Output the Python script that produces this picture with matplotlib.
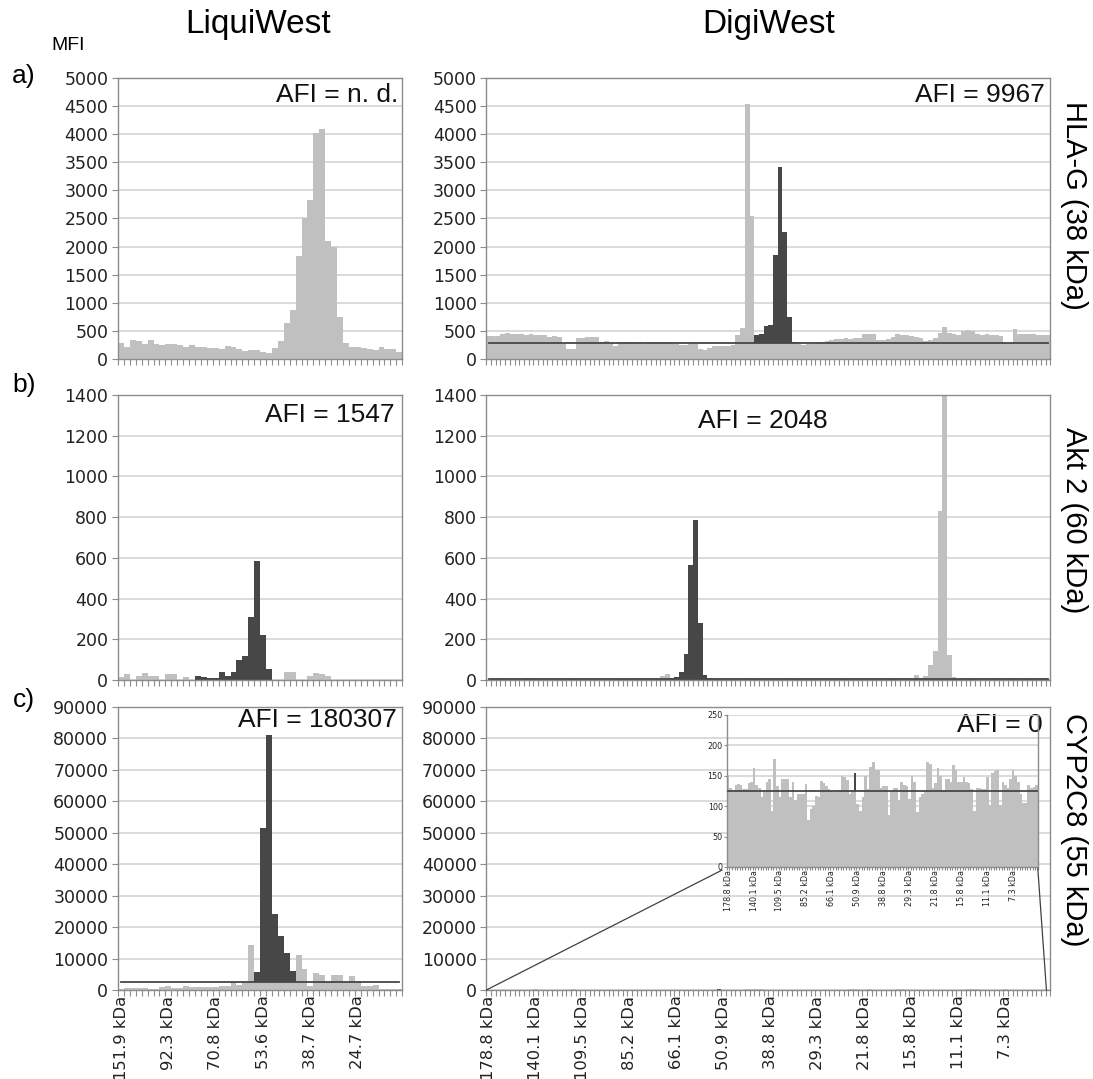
import numpy as np
import matplotlib.pyplot as plt
from matplotlib.patches import ConnectionPatch

# ---- data: MFI per fraction ----
liqui_labels = ['151.9 kDa', '92.3 kDa', '70.8 kDa', '53.6 kDa', '38.7 kDa', '24.7 kDa']
digi_labels = ['178.8 kDa', '140.1 kDa', '109.5 kDa', '85.2 kDa', '66.1 kDa', '50.9 kDa',
               '38.8 kDa', '29.3 kDa', '21.8 kDa', '15.8 kDa', '11.1 kDa', '7.3 kDa']

# LiquiWest, 48 fractions
liqui_hla = [280, 210, 330, 320, 270, 330, 260, 250, 260, 260,
             240, 210, 240, 220, 210, 200, 200, 170, 230, 210,
             170, 150, 160, 160, 120, 110, 190, 320, 640, 870,
             1830, 2500, 2830, 4030, 4100, 2100, 2000, 750, 290, 220,
             210, 200, 180, 160, 220, 180, 170, 130]
liqui_hla_dark = []
liqui_hla_base = None

liqui_akt = [15, 28, 0, 20, 35, 20, 18, 0, 30, 28,
             0, 15, 0, 22, 13, 8, 8, 40, 20, 40,
             98, 120, 310, 585, 220, 55, 0, 0, 40, 38,
             0, 0, 18, 35, 30, 20, 0, 0, 0, 0,
             0, 0, 0, 0, 0, 0, 0, 0]
liqui_akt_dark = list(range(13, 26))
liqui_akt_base = 0

liqui_cyp = [400, 700, 700, 700, 700, 300, 300, 800, 1400, 500,
             500, 1300, 800, 1100, 900, 800, 1100, 1400, 1200, 2500,
             1600, 2600, 14200, 5800, 51500, 81000, 24300, 17200, 11800, 6000,
             11000, 6600, 1200, 5300, 4800, 2400, 4800, 4800, 2600, 4500,
             3000, 1200, 1400, 1700, 400, 300, 300, 200]
liqui_cyp_dark = list(range(23, 30))
liqui_cyp_base = 2600

# DigiWest, 120 fractions
digi_hla = [410, 405, 415, 450, 460, 445, 440, 445, 430, 440,
            425, 420, 430, 400, 405, 395, 260, 170, 175, 380,
            370, 385, 400, 390, 310, 320, 280, 230, 290, 285,
            295, 290, 280, 275, 310, 305, 300, 310, 295, 280,
            270, 245, 250, 280, 265, 170, 165, 200, 230, 225,
            230, 235, 250, 420, 560, 4530, 2540, 430, 450, 580,
            600, 1850, 3410, 2260, 750, 310, 300, 250, 270, 270,
            280, 300, 320, 330, 360, 360, 370, 350, 380, 370,
            450, 450, 440, 330, 340, 360, 400, 440, 430, 420,
            410, 400, 370, 320, 330, 380, 470, 570, 460, 440,
            430, 500, 520, 500, 440, 430, 440, 420, 420, 410,
            290, 280, 530, 450, 450, 440, 440, 430, 430, 420]
digi_hla_dark = list(range(57, 66))
digi_hla_base = 280

digi_akt = [2, 3, 8, 3, 2, 2, 3, 2, 8, 5,
            2, 2, 3, 2, 2, 3, 2, 5, 5, 2,
            2, 2, 3, 2, 2, 3, 2, 5, 3, 6,
            3, 2, 10, 3, 2, 4, 8, 20, 28, 10,
            15, 40, 130, 565, 787, 280, 25, 8, 3, 4,
            2, 2, 3, 2, 2, 3, 2, 6, 3, 2,
            2, 3, 2, 2, 3, 6, 5, 2, 2, 3,
            2, 2, 3, 2, 2, 3, 5, 2, 2, 3,
            2, 2, 3, 2, 2, 6, 5, 2, 3, 2,
            3, 25, 10, 20, 75, 140, 830, 1450, 125, 15,
            5, 2, 5, 3, 2, 2, 3, 2, 3, 2,
            2, 3, 2, 2, 3, 3, 2, 2, 3, 2]
digi_akt_dark = list(range(39, 48))
digi_akt_base = 3

digi_cyp = [152, 130, 127, 135, 137, 134, 128, 129, 138, 140,
            162, 135, 130, 115, 125, 140, 145, 92, 178, 133,
            115, 145, 145, 145, 115, 140, 110, 120, 120, 120,
            137, 77, 95, 100, 117, 115, 142, 138, 133, 128,
            125, 124, 125, 126, 150, 148, 143, 120, 127, 155,
            103, 92, 115, 150, 128, 165, 172, 160, 160, 130,
            133, 133, 86, 125, 130, 130, 110, 140, 135, 133,
            112, 150, 140, 90, 115, 120, 125, 172, 170, 130,
            138, 162, 150, 125, 145, 145, 140, 168, 160, 140,
            140, 148, 140, 138, 128, 92, 130, 130, 128, 128,
            148, 102, 155, 158, 160, 102, 140, 135, 130, 145,
            160, 150, 140, 120, 105, 105, 135, 130, 132, 135]
digi_cyp_dark = [49]
digi_cyp_base = 125

LIGHT = '#c0c0c0'
DARK = '#474747'
GRID = '#d4d4d4'
AXIS = '#8c8c8c'
TXT = 'Liberation Sans'

plt.rcParams['font.family'] = 'DejaVu Sans'


def draw(ax, vals, dark, base, ymax, ystep, labels=None, every=8,
         tsize=12.5, lsize=11.8, tick_len=4):
    vals = np.array(vals, dtype=float)
    x = np.arange(len(vals))
    is_dark = np.isin(x, dark)
    b = 0 if base is None else base
    light_h = np.where(is_dark, b, vals)
    ax.bar(x, light_h, width=1.0, color=LIGHT, linewidth=0, zorder=2)
    if is_dark.any():
        ax.bar(x[is_dark], vals[is_dark] - b, bottom=b, width=1.0,
               color=DARK, linewidth=0, zorder=2)
    if base is not None and base > 0:
        ax.plot([x[0], x[-1]], [base, base], color=DARK, lw=1.3, zorder=3)
    ax.set_xlim(-0.5, len(vals) - 0.5)
    ax.set_ylim(0, ymax)
    ax.set_yticks(np.arange(0, ymax + 1, ystep))
    ax.yaxis.grid(True, color=GRID, lw=1.2)
    ax.set_axisbelow(True)
    ax.set_xticks(np.arange(-0.5, len(vals)), minor=True)
    if labels:
        ax.set_xticks(np.arange(len(labels)) * every)
        ax.set_xticklabels(labels, rotation=90, fontsize=lsize, color='#222222')
    else:
        ax.set_xticks([])
    ax.tick_params(axis='x', which='major', length=0, pad=4)
    ax.tick_params(axis='x', which='minor', length=tick_len, color=AXIS, width=0.8)
    ax.tick_params(axis='y', length=tick_len, color=AXIS, labelsize=tsize,
                   labelcolor='#222222', pad=3)
    for s in ax.spines.values():
        s.set_color(AXIS)
        s.set_linewidth(1.0)


fig = plt.figure(figsize=(10.93, 10.79), dpi=100)
L_left, L_w = 0.108, 0.260
R_left, R_w = 0.445, 0.516
rows = [(0.6673, 0.2604), (0.3698, 0.2641), (0.0825, 0.2623)]

axLa = fig.add_axes([L_left, rows[0][0], L_w, rows[0][1]])
axRa = fig.add_axes([R_left, rows[0][0], R_w, rows[0][1]])
axLb = fig.add_axes([L_left, rows[1][0], L_w, rows[1][1]])
axRb = fig.add_axes([R_left, rows[1][0], R_w, rows[1][1]])
axLc = fig.add_axes([L_left, rows[2][0], L_w, rows[2][1]])
axRc = fig.add_axes([R_left, rows[2][0], R_w, rows[2][1]])

draw(axLa, liqui_hla, liqui_hla_dark, liqui_hla_base, 5000, 500)
draw(axRa, digi_hla, digi_hla_dark, digi_hla_base, 5000, 500)
draw(axLb, liqui_akt, liqui_akt_dark, liqui_akt_base, 1400, 200)
draw(axRb, digi_akt, digi_akt_dark, digi_akt_base, 1400, 200)
draw(axLc, liqui_cyp, liqui_cyp_dark, liqui_cyp_base, 90000, 10000, liqui_labels, 8)
draw(axRc, digi_cyp, digi_cyp_dark, None, 90000, 10000, digi_labels, 10)

# inset with the DigiWest CYP2C8 profile on its own scale
ins = fig.add_axes([0.665, 0.1965, 0.2845, 0.1409])
draw(ins, digi_cyp, digi_cyp_dark, digi_cyp_base, 250, 50, digi_labels, 10,
     tsize=5.8, lsize=5.8, tick_len=2)
ins.patch.set_alpha(0)
ins.spines['top'].set_visible(False)
ins.tick_params(axis='y', pad=1)
ins.tick_params(axis='x', which='major', pad=2)

for xyA, xyB in [((0.0, 0.0), (-0.015, -0.02)), ((0.993, 0.0), (1.0, -0.01))]:
    con = ConnectionPatch(xyA=xyA, coordsA=axRc.transAxes, xyB=xyB,
                          coordsB=ins.transAxes, color='#404040', lw=0.9)
    fig.add_artist(con)

# AFI annotations
afi = dict(fontsize=19, family=TXT, color='#111111', zorder=5)
axLa.text(0.985, 0.94, 'AFI = n. d.', transform=axLa.transAxes, ha='right', va='center', **afi)
axRa.text(0.99, 0.94, 'AFI = 9967', transform=axRa.transAxes, ha='right', va='center', **afi)
axLb.text(0.975, 0.93, 'AFI = 1547', transform=axLb.transAxes, ha='right', va='center', **afi)
axRb.text(0.49, 0.91, 'AFI = 2048', transform=axRb.transAxes, ha='center', va='center', **afi)
axLc.text(0.98, 0.954, 'AFI = 180307', transform=axLc.transAxes, ha='right', va='center', **afi)
axRc.text(0.986, 0.936, 'AFI = 0', transform=axRc.transAxes, ha='right', va='center', **afi)

# titles and labels
fig.text(0.236, 0.977, 'LiquiWest', ha='center', va='center', fontsize=24, family=TXT)
fig.text(0.703, 0.977, 'DigiWest', ha='center', va='center', fontsize=24, family=TXT)
fig.text(0.062, 0.958, 'MFI', ha='center', va='center', fontsize=14, family=TXT)
for lab, y in [('a)', 0.930), ('b)', 0.643), ('c)', 0.351)]:
    fig.text(0.022, y, lab, ha='center', va='center', fontsize=19, family=TXT)
for lab, y in [('HLA-G (38 kDa)', 0.810), ('Akt 2 (60 kDa)', 0.518), ('CYP2C8 (55 kDa)', 0.231)]:
    fig.text(0.983, y, lab, ha='center', va='center', rotation=-90, fontsize=21, family=TXT)

fig.savefig('out.png', dpi=100)
